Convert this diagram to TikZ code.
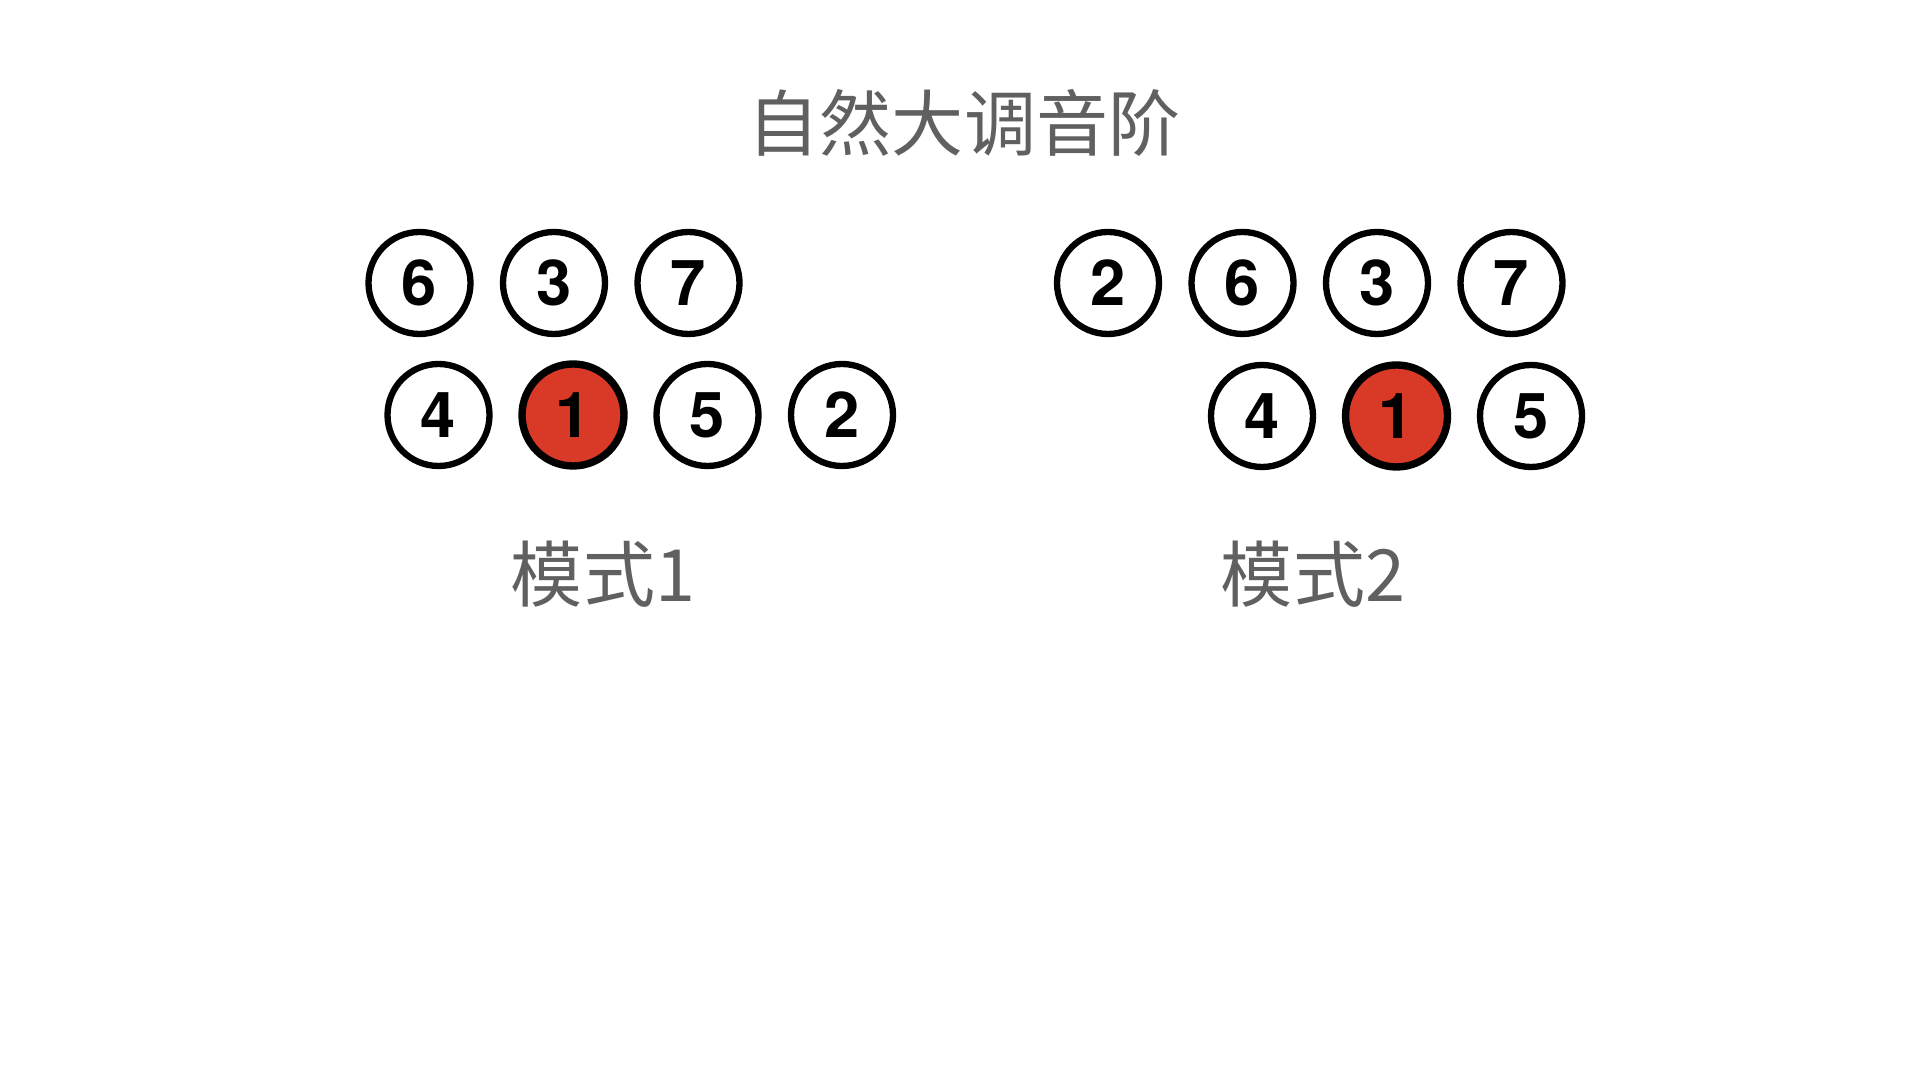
\documentclass[tikz,border=0pt]{standalone}
\usepackage{fontspec}
\setsansfont{TeX Gyre Heros}
\newfontfamily\cjk{Noto Sans CJK SC}
\usepackage{tikz}
\definecolor{toneRed}{RGB}{217,58,40}
\definecolor{textGray}{RGB}{96,96,96}
\tikzset{
  tone/.style={circle, draw=black, line width=1.8pt, fill=white, minimum size=1.02cm, inner sep=0pt,
    font=\sffamily\bfseries\fontsize{18}{18}\selectfont},
  toneR/.style={tone, fill=toneRed, line width=2.1pt},
  caption/.style={text=textGray, font=\cjk\fontsize{20.5}{20.5}\selectfont}
}
\newcommand{\tone}[4]{\node[tone] (#1) at ( #2 , #3 ) {#4};}
\newcommand{\toneR}[4]{\node[toneR] (#1) at ( #2 , #3 ) {#4};}
\begin{document}
\begin{tikzpicture}
    \useasboundingbox (0,0) rectangle (19.2,10.8);
    \node[caption] (title) at (9.64,9.57) {自然大调音阶};
       % pattern1 row1
        \tone{aSix}{4.195}{7.97}{6}
        \tone{aThree}{5.54}{7.97}{3}
        \tone{aSeven}{6.885}{7.97}{7}
        % pattern1 row2
        \tone{aFour}{4.385}{6.65}{4}
        \toneR{aOne}{5.73}{6.65}{1}
        \tone{aFive}{7.075}{6.65}{5}
        \tone{aTwo}{8.42}{6.65}{2}
        % pattern2 row1
        \tone{bTwo}{11.08}{7.97}{2}
        \tone{bSix}{12.425}{7.97}{6}
        \tone{bThree}{13.77}{7.97}{3}
        \tone{bSeven}{15.115}{7.97}{7}
        % pattern2 row2
        \tone{bFour}{12.62}{6.64}{4}
        \toneR{bOne}{13.965}{6.64}{1}
        \tone{bFive}{15.31}{6.64}{5}
    \node[caption] (modeA) at (6.03,5.06) {模式1};
    \node[caption] (modeB) at (13.13,5.06) {模式2};
\end{tikzpicture}
\end{document}
